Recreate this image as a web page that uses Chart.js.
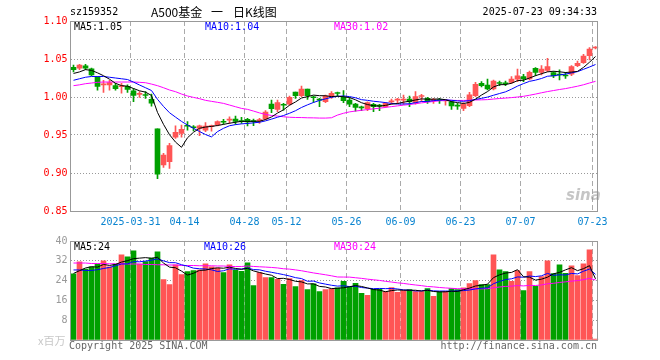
<!DOCTYPE html>
<html>
<head>
<meta charset="utf-8">
<script src="https://cdn.jsdelivr.net/npm/chart.js@4.4.1/dist/chart.umd.min.js"></script>
<style>
  html, body { margin: 0; padding: 0; background: #fff; }
  #wrap { position: relative; width: 660px; height: 360px; overflow: hidden; }
  canvas { position: absolute; left: 0; }
  .t { position: absolute; font: 10px "DejaVu Sans Mono", monospace; line-height: 12px; white-space: pre; }
  .cn { position: absolute; font: 12px "Noto Sans CJK SC", sans-serif; line-height: 14px; white-space: pre; color: #000; }
</style>
</head>
<body>
<div id="wrap">
  <canvas id="price" width="660" height="232" style="top:0"></canvas>
  <canvas id="vol" width="660" height="128" style="top:232px"></canvas>

  <div class="t" style="left:70px;top:6px">sz159352</div>
  <div class="cn" style="left:151px;top:5px">A500基金</div>
  <div class="cn" style="left:211px;top:5px">一</div>
  <div class="cn" style="left:233px;top:5px">日K线图</div>
  <div class="t" style="right:63px;top:6px">2025-07-23 09:34:33</div>

  <div class="t" style="left:74px;top:21px;color:#000">MA5:1.05</div>
  <div class="t" style="left:205px;top:21px;color:#0000ff">MA10:1.04</div>
  <div class="t" style="left:334px;top:21px;color:#ff00ff">MA30:1.02</div>

  <div class="t" style="left:74px;top:241px;color:#000">MA5:24</div>
  <div class="t" style="left:204px;top:241px;color:#0000ff">MA10:26</div>
  <div class="t" style="left:334px;top:241px;color:#ff00ff">MA30:24</div>

  <div style="position:absolute;left:566px;top:186px;font:italic bold 15px 'DejaVu Sans',sans-serif;color:rgba(150,150,150,0.55)">sina</div>

  <div class="cn" style="left:38px;top:333px;font-size:11px;color:#c8c8c8">x百万</div>
  <div class="t" style="left:69px;top:340px;color:#666">Copyright 2025 SINA.COM</div>
  <div class="t" style="right:63px;top:340px;color:#666">http://finance.sina.com.cn</div>
</div>

<script>
// trading days shown on the chart
const dates = [
  '2025-03-17','2025-03-18','2025-03-19','2025-03-20','2025-03-21','2025-03-24','2025-03-25','2025-03-26','2025-03-27','2025-03-28',
  '2025-03-31','2025-04-01','2025-04-02','2025-04-03','2025-04-07','2025-04-08','2025-04-09','2025-04-10','2025-04-11','2025-04-14',
  '2025-04-15','2025-04-16','2025-04-17','2025-04-18','2025-04-21','2025-04-22','2025-04-23','2025-04-24','2025-04-25','2025-04-28',
  '2025-04-29','2025-04-30','2025-05-06','2025-05-07','2025-05-08','2025-05-09','2025-05-12','2025-05-13','2025-05-14','2025-05-15',
  '2025-05-16','2025-05-19','2025-05-20','2025-05-21','2025-05-22','2025-05-23','2025-05-26','2025-05-27','2025-05-28','2025-05-29',
  '2025-05-30','2025-06-03','2025-06-04','2025-06-05','2025-06-06','2025-06-09','2025-06-10','2025-06-11','2025-06-12','2025-06-13',
  '2025-06-16','2025-06-17','2025-06-18','2025-06-19','2025-06-20','2025-06-23','2025-06-24','2025-06-25','2025-06-26','2025-06-27',
  '2025-06-30','2025-07-01','2025-07-02','2025-07-03','2025-07-04','2025-07-07','2025-07-08','2025-07-09','2025-07-10','2025-07-11',
  '2025-07-14','2025-07-15','2025-07-16','2025-07-17','2025-07-18','2025-07-21','2025-07-22','2025-07-23'
];
const tickDates = ['2025-03-31','2025-04-14','2025-04-28','2025-05-12','2025-05-26','2025-06-09','2025-06-23','2025-07-07','2025-07-23'];

const open = [
  1.039,1.038,1.041,1.037,1.026,1.016,1.016,1.015,1.0135,1.014,
  1.008,1.0035,1.0025,0.997,0.958,0.9105,0.915,0.947,0.952,0.9625,
  0.960,0.9587,0.9565,0.961,0.9631,0.9672,0.9695,0.971,0.968,0.9706,
  0.968,0.969,0.971,0.9907,0.9837,0.9897,0.9907,1.0065,1.0017,1.0105,
  0.9993,0.9962,0.9938,1.0004,1.005,0.9995,0.996,0.9907,0.9862,0.9846,
  0.9903,0.9883,0.9872,0.9936,0.9958,0.9958,0.9973,0.9925,1.0006,0.9982,
  0.9951,0.9956,0.9949,0.9938,0.9883,0.985,0.9886,1.0018,1.018,1.0158,
  1.0105,1.0182,1.0178,1.0193,1.0233,1.0268,1.0237,1.0377,1.0325,1.0351,
  1.032,1.0292,1.0279,1.0299,1.0412,1.0452,1.0544,1.0645
];
const close = [
  1.036,1.042,1.038,1.029,1.014,1.017,1.019,1.011,1.014,1.010,
  1.002,1.004,1.002,0.992,0.8985,0.9235,0.936,0.9535,0.9575,0.9615,
  0.9595,0.9622,0.9618,0.9615,0.9675,0.9668,0.970,0.968,0.9677,0.9671,
  0.9677,0.9695,0.980,0.9846,0.9925,0.9892,0.9995,1.0017,1.0105,1.0017,
  0.999,0.9958,1.0013,1.0048,1.0046,0.9951,0.9907,0.9863,0.9857,0.9925,
  0.9872,0.988,0.9916,0.994,0.9962,0.9962,0.9938,1.0004,1.001,0.9938,
  0.9969,0.9952,0.9953,0.9881,0.9879,0.9907,1.0027,1.0167,1.0149,1.0105,
  1.0211,1.0178,1.0174,1.0237,1.0277,1.0237,1.0325,1.0325,1.0369,1.0399,
  1.0277,1.0289,1.0276,1.0399,1.0443,1.054,1.0632,1.0649
];
const high = [
  1.042,1.043,1.043,1.038,1.027,1.022,1.022,1.018,1.018,1.016,
  1.011,1.007,1.007,1.004,0.958,0.926,0.939,0.962,0.963,0.9675,
  0.9625,0.9631,0.9662,0.9631,0.9688,0.9706,0.974,0.975,0.9732,0.9719,
  0.971,0.9719,0.982,0.996,0.996,0.9916,1.0013,1.0065,1.0144,1.0105,
  1.0013,0.9982,1.0026,1.007,1.0065,1.0083,0.9991,0.9916,0.9881,0.9938,
  0.9916,0.9903,0.9929,0.9973,0.9982,1.0026,1.0013,1.007,1.0035,0.9995,
  0.9982,0.9982,0.996,0.9951,0.9916,0.9925,1.0062,1.0193,1.0202,1.0237,
  1.0224,1.0211,1.0211,1.0268,1.0369,1.0298,1.0342,1.0386,1.0412,1.0509,
  1.0334,1.0356,1.0325,1.0412,1.0474,1.0562,1.0649,1.0663
];
const low = [
  1.033,1.036,1.036,1.028,1.009,1.006,1.009,1.009,1.005,1.006,
  0.994,0.9995,0.998,0.988,0.8925,0.9075,0.906,0.9455,0.947,0.9565,
  0.9555,0.949,0.9543,0.9552,0.9618,0.9644,0.9653,0.964,0.9653,0.9618,
  0.9622,0.9653,0.9697,0.9793,0.9807,0.9828,0.9894,0.9982,1.0004,0.9969,
  0.9929,0.9873,0.9925,0.9982,1.0013,0.9925,0.9872,0.9815,0.982,0.982,
  0.9807,0.982,0.9863,0.9907,0.9916,0.9903,0.9872,0.9907,0.9938,0.9916,
  0.9916,0.9916,0.9894,0.9837,0.9837,0.982,0.9873,1.0005,1.0132,1.0092,
  1.0092,1.0149,1.0149,1.018,1.0202,1.0202,1.0224,1.0281,1.029,1.0334,
  1.0255,1.0224,1.0246,1.0281,1.0399,1.0443,1.0487,1.0632
];
// volume, millions
const volume = [
  26.7,31.6,28.7,29.6,30.7,32.0,29.6,30.7,34.4,33.6,
  36.0,30.7,31.7,33.1,35.6,24.4,22.4,30.4,26.4,27.6,
  28.0,28.3,30.8,29.6,29.1,27.2,30.4,28.3,27.7,31.2,
  22.0,27.2,25.2,25.2,24.5,22.5,24.8,21.6,24.0,20.4,
  22.7,19.6,20.4,20.7,21.1,23.7,21.6,22.9,18.9,18.0,
  20.5,20.5,19.6,21.2,19.3,20.0,20.4,19.6,19.6,20.8,
  17.6,19.6,19.7,20.8,20.4,21.1,22.8,24.0,22.4,22.4,
  34.4,28.4,27.6,23.7,28.0,20.0,27.6,21.7,25.6,32.0,
  26.8,30.4,26.9,30.0,26.0,30.8,36.4,0.4
];

// moving-average values at the left edge (history before the first bar is not shown)
const ma5Head = [1.031, 1.033, 1.036, 1.035];
const ma10Head = [1.022, 1.024, 1.026, 1.027, 1.027, 1.027, 1.026, 1.025, 1.024];
const ma30Head = [1.0149,1.016,1.0175,1.0184,1.0193,1.0197,1.0197,1.0197,1.0197,1.0197,
  1.0197,1.0193,1.0188,1.017,1.0149,1.0122,1.0092,1.007,1.0039,1.0013,
  0.9995,0.9978,0.9956,0.9943,0.993,0.9916,0.9894,0.9872,0.985];
const volMa5Head = [26.9, 28.0, 29.1, 29.6];
const volMa10Head = [28.3, 28.3, 28.1, 28.1, 28.4, 28.9, 29.3, 30.0, 30.7];
const volMa30Head = [31.1,31.1,31.1,30.9,30.9,30.9,30.8,30.8,30.8,30.7,
  30.7,30.7,30.5,30.5,30.4,30.4,30.3,30.3,30.1,30.1,
  30.1,30.0,30.0,30.0,29.9,29.9,29.7,29.7,29.7];

function movingAvg(values, n, head) {
  return values.map((v, i) => {
    if (i < head.length) return head[i];
    let s = 0;
    for (let k = i - n + 1; k <= i; k++) s += values[k];
    return s / n;
  });
}

const RED = '#ff5555', GREEN = '#00a000';
const colors = close.map((c, i) => c >= open[i] ? RED : GREEN);
const tickIdx = new Set(tickDates.map(d => dates.indexOf(d)));
const mono = { family: '"DejaVu Sans Mono", monospace', size: 10 };

const boxPlugin = {
  id: 'box',
  afterDraw(chart) {
    const { ctx, chartArea: a } = chart;
    ctx.save();
    ctx.strokeStyle = '#999';
    ctx.lineWidth = 1;
    const x0 = Math.floor(a.left) + 0.5, x1 = Math.floor(a.right) - 0.5;
    const y0 = Math.floor(a.top) + 0.5, y1 = Math.floor(a.bottom) + 0.5;
    ctx.strokeRect(x0, y0, x1 - x0, y1 - y0);
    ctx.restore();
  }
};

function xScale(showLabels, height) {
  return {
    offset: true,
    afterFit: s => { s.height = height; },
    grid: {
      offset: true,
      drawTicks: false,
      color: c => tickIdx.has(c.index) ? '#aaa' : 'rgba(0,0,0,0)'
    },
    border: { display: false, dash: [5, 3] },
    ticks: {
      display: showLabels,
      autoSkip: false,
      maxRotation: 0,
      padding: 5,
      labelOffset: -3,
      color: '#0a84d0',
      font: mono,
      callback: (v, i) => {
        if (!tickIdx.has(i)) return '';
        return i === dates.indexOf('2025-03-31') ? dates[i] : dates[i].slice(5);
      }
    }
  };
}

const line = (data, color) => ({
  type: 'line', data, borderColor: color, borderWidth: 1,
  pointRadius: 0, tension: 0, fill: false, order: 0
});

const common = {
  responsive: false,
  animation: false,
  plugins: { legend: { display: false }, tooltip: { enabled: false } }
};

new Chart(document.getElementById('price'), {
  type: 'bar',
  data: {
    labels: dates,
    datasets: [
      line(movingAvg(close, 5, ma5Head), '#000000'),
      line(movingAvg(close, 10, ma10Head), '#0000ff'),
      line(movingAvg(close, 30, ma30Head), '#ff00ff'),
      { data: open.map((o, i) => [o, close[i]]), backgroundColor: colors,
        barThickness: 5, minBarLength: 1, grouped: false, order: 1 },
      { data: low.map((l, i) => [l, high[i]]), backgroundColor: colors,
        barThickness: 1, grouped: false, order: 2 }
    ]
  },
  options: {
    ...common,
    layout: { padding: { top: 21, left: 0, right: 61.5, bottom: 0 } },
    scales: {
      x: xScale(true, 21),
      y: {
        min: 0.85, max: 1.10,
        afterFit: s => { s.width = 70.5; },
        grid: { color: '#999', drawTicks: false },
        border: { display: false, dash: [1, 2] },
        ticks: { stepSize: 0.05, padding: 3, color: '#ff0000', font: mono,
                 callback: v => Number(v).toFixed(2) }
      }
    }
  },
  plugins: [boxPlugin]
});

new Chart(document.getElementById('vol'), {
  type: 'bar',
  data: {
    labels: dates,
    datasets: [
      line(movingAvg(volume, 5, volMa5Head), '#000000'),
      line(movingAvg(volume, 10, volMa10Head), '#0000ff'),
      line(movingAvg(volume, 30, volMa30Head), '#ff00ff'),
      { data: volume, backgroundColor: colors, barThickness: 5, order: 1 }
    ]
  },
  options: {
    ...common,
    layout: { padding: { top: 8, left: 0, right: 61.5, bottom: 0 } },
    scales: {
      x: xScale(false, 20),
      y: {
        min: 0, max: 40,
        afterFit: s => { s.width = 70.5; },
        grid: { color: '#999', drawTicks: false },
        border: { display: false, dash: [1, 2] },
        ticks: { stepSize: 8, padding: 3, color: '#999', font: mono,
                 callback: v => v === 0 ? '' : String(v) }
      }
    }
  },
  plugins: [boxPlugin]
});
</script>
</body>
</html>
